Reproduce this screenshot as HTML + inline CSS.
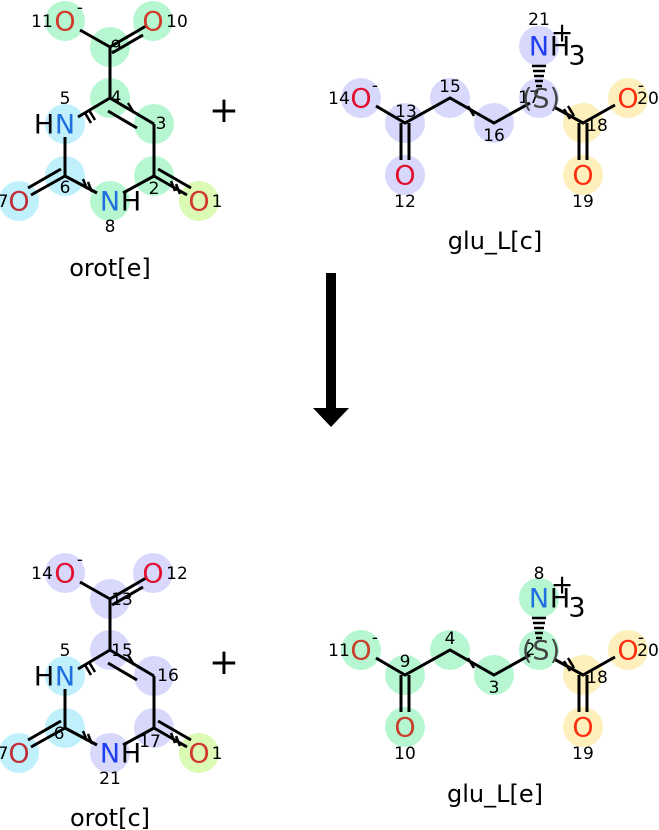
<!DOCTYPE html>
<html><head><meta charset="utf-8"><style>
html,body{margin:0;padding:0;background:#fff;}
svg{display:block;}
text{font-family:"DejaVu Sans","Liberation Sans",sans-serif;}
.a{font-size:27px;text-anchor:middle;dominant-baseline:central;}
.n{font-size:17px;fill:#000;text-anchor:middle;dominant-baseline:central;}
.b{stroke:#000;stroke-width:3;fill:none;stroke-linecap:butt;}
.h{stroke:#000;stroke-width:2.5;fill:none;}
.lbl{font-size:24px;text-anchor:middle;fill:#000;}
</style></head><body>
<svg width="659" height="830" viewBox="0 0 659 830" xmlns="http://www.w3.org/2000/svg">
<defs>
<g id="orot">
  <path class="b" d="M80,30 L110,47 M110,47 L146,26 M112,53 L143,35 M110,47 L110,98 M110,98 L78,117 M110,98 L154,124 M108,111 L137,128 M154,124 L154,176 M154,176 L123,193 M97,193 L65,176 M65,176 L65,137 M65,176 L31,195 M61,169 L28,188 M154,176 L187,195 M158,169 L191,188"/>
  <path class="h" d="M85,113 L91,123 M89,110 L95,120 M128,103 L134,113 M83,179 L87,189 M88,182 L92,192 M171,181 L175,191 M176,184 L180,194"/>
</g>
<g id="glu">
  <path class="b" d="M376,106 L405,123 L450,98 L494,123 L530,103 M554,107 L583,123 L615,105 M401,123 L401,160 M409,123 L409,160 M579,123 L579,160 M587,123 L587,160"/>
  <path class="h" d="M468,106 L474,116 M564,109 L570,119 M568,106 L574,116 M532,66 L546,66 M533,71 L545,71 M534,76 L544,76 M535,81 L543,81 M536,86 L542,86"/>
</g>
</defs>

<!-- TOP LEFT orot[e] -->
<g>
<circle cx="65" cy="21" r="20" fill="#b6f7d2"/><circle cx="153" cy="21" r="20" fill="#b6f7d2"/>
<circle cx="110" cy="47" r="20" fill="#b6f7d2"/><circle cx="110" cy="98" r="20" fill="#b6f7d2"/>
<circle cx="154" cy="124" r="20" fill="#b6f7d2"/><circle cx="154" cy="176" r="20" fill="#b6f7d2"/>
<circle cx="110" cy="201" r="20" fill="#b6f7d2"/>
<circle cx="65" cy="124" r="20" fill="#bff0fc"/><circle cx="65" cy="176" r="20" fill="#bff0fc"/><circle cx="19" cy="201" r="20" fill="#bff0fc"/>
<circle cx="199" cy="201" r="20" fill="#dafab5"/>
<use href="#orot"/>
<text class="a" x="65" y="22" fill="#d03a2a">O</text><text class="n" x="80" y="8" font-size="22">-</text>
<text class="a" x="153" y="22" fill="#d03a2a">O</text>
<text class="a" x="65" y="125" fill="#1f6fe0">N</text><text class="a" x="44" y="125" fill="#000">H</text>
<text class="a" x="110" y="202" fill="#1f6fe0">N</text><text class="a" x="131" y="202" fill="#000">H</text>
<text class="a" x="19" y="202" fill="#c0303a">O</text>
<text class="a" x="199" y="202" fill="#d03a2a">O</text>
<text class="n" x="42" y="22">11</text><text class="n" x="177" y="22">10</text>
<text class="n" x="116" y="47">9</text><text class="n" x="116" y="98">4</text>
<text class="n" x="65" y="99">5</text><text class="n" x="161" y="124">3</text>
<text class="n" x="65" y="188">6</text><text class="n" x="154" y="189">2</text>
<text class="n" x="110" y="227">8</text><text class="n" x="3" y="202">7</text><text class="n" x="217" y="202">1</text>
<text class="lbl" x="110" y="276">orot[e]</text>
</g>

<text x="224" y="122" font-size="36" text-anchor="middle" fill="#000">+</text>

<!-- TOP RIGHT glu_L[c] -->
<g>
<circle cx="361" cy="98" r="20" fill="#d8d8fc"/><circle cx="405" cy="123" r="20" fill="#d8d8fc"/>
<circle cx="450" cy="98" r="20" fill="#d8d8fc"/><circle cx="494" cy="123" r="20" fill="#d8d8fc"/>
<circle cx="539" cy="98" r="20" fill="#d8d8fc"/><circle cx="539" cy="46" r="20" fill="#d8d8fc"/>
<circle cx="405" cy="175" r="20" fill="#d8d8fc"/>
<circle cx="583" cy="123" r="20" fill="#fdf0bd"/><circle cx="628" cy="98" r="20" fill="#fdf0bd"/><circle cx="583" cy="175" r="20" fill="#fdf0bd"/>
<use href="#glu"/>
<text class="a" x="361" y="99" fill="#e0102f">O</text><text class="n" x="375" y="86" font-size="22">-</text>
<text class="a" x="405" y="176" fill="#e0102f">O</text>
<text class="a" x="539" y="47" fill="#2040f0">N</text><text class="a" x="560" y="47" fill="#000">H</text><text class="a" x="577" y="56" font-size="22" fill="#000">3</text><text class="a" x="562" y="33" font-size="22" fill="#000">+</text>
<text class="a" x="628" y="99" fill="#ff3010">O</text><text class="n" x="641" y="86" font-size="22">-</text>
<text class="a" x="583" y="176" fill="#ff3010">O</text>
<text class="n" x="339" y="99">14</text><text class="n" x="406" y="112">13</text>
<text class="n" x="450" y="87">15</text><text class="n" x="494" y="136">16</text>
<text class="n" x="529" y="98">17</text><text class="a" x="541" y="99" font-size="22" fill="#444">(S)</text>
<text class="n" x="597" y="126">18</text><text class="n" x="648" y="99">20</text>
<text class="n" x="405" y="202">12</text><text class="n" x="583" y="202">19</text><text class="n" x="539" y="20">21</text>
<text class="lbl" x="495" y="249">glu_L[c]</text>
</g>

<!-- ARROW -->
<rect x="326" y="273" width="10" height="137" fill="#000"/>
<polygon points="313,408 349,408 331,427" fill="#000"/>

<!-- BOTTOM LEFT orot[c] -->
<g transform="translate(0,552)">
<circle cx="65" cy="21" r="20" fill="#d8d8fc"/><circle cx="153" cy="21" r="20" fill="#d8d8fc"/>
<circle cx="110" cy="47" r="20" fill="#d8d8fc"/><circle cx="110" cy="98" r="20" fill="#d8d8fc"/>
<circle cx="154" cy="124" r="20" fill="#d8d8fc"/><circle cx="154" cy="176" r="20" fill="#d8d8fc"/>
<circle cx="110" cy="201" r="20" fill="#d8d8fc"/>
<circle cx="65" cy="124" r="20" fill="#bff0fc"/><circle cx="65" cy="176" r="20" fill="#bff0fc"/><circle cx="19" cy="201" r="20" fill="#bff0fc"/>
<circle cx="199" cy="201" r="20" fill="#dafab5"/>
<use href="#orot"/>
<text class="a" x="65" y="22" fill="#e0102f">O</text><text class="n" x="80" y="8" font-size="22">-</text>
<text class="a" x="153" y="22" fill="#e0102f">O</text>
<text class="a" x="65" y="125" fill="#1f6fe0">N</text><text class="a" x="44" y="125" fill="#000">H</text>
<text class="a" x="110" y="202" fill="#2040f0">N</text><text class="a" x="131" y="202" fill="#000">H</text>
<text class="a" x="19" y="202" fill="#c0303a">O</text>
<text class="a" x="199" y="202" fill="#d03a2a">O</text>
<text class="n" x="42" y="22">14</text><text class="n" x="177" y="22">12</text>
<text class="n" x="122" y="48">13</text><text class="n" x="122" y="99">15</text>
<text class="n" x="65" y="99">5</text><text class="n" x="168" y="124">16</text>
<text class="n" x="59" y="182">6</text><text class="n" x="150" y="190">17</text>
<text class="n" x="110" y="227">21</text><text class="n" x="3" y="202">7</text><text class="n" x="217" y="202">1</text>
<text class="lbl" x="110" y="274">orot[c]</text>
</g>

<text x="224" y="674" font-size="36" text-anchor="middle" fill="#000">+</text>

<!-- BOTTOM RIGHT glu_L[e] -->
<g transform="translate(0,552)">
<circle cx="361" cy="98" r="20" fill="#b6f7d2"/><circle cx="405" cy="123" r="20" fill="#b6f7d2"/>
<circle cx="450" cy="98" r="20" fill="#b6f7d2"/><circle cx="494" cy="123" r="20" fill="#b6f7d2"/>
<circle cx="539" cy="98" r="20" fill="#b6f7d2"/><circle cx="539" cy="46" r="20" fill="#b6f7d2"/>
<circle cx="405" cy="175" r="20" fill="#b6f7d2"/>
<circle cx="583" cy="123" r="20" fill="#fdf0bd"/><circle cx="628" cy="98" r="20" fill="#fdf0bd"/><circle cx="583" cy="175" r="20" fill="#fdf0bd"/>
<use href="#glu"/>
<text class="a" x="361" y="99" fill="#c8402a">O</text><text class="n" x="375" y="86" font-size="22">-</text>
<text class="a" x="405" y="176" fill="#c8402a">O</text>
<text class="a" x="539" y="47" fill="#1f6fe0">N</text><text class="a" x="560" y="47" fill="#000">H</text><text class="a" x="577" y="56" font-size="22" fill="#000">3</text><text class="a" x="562" y="33" font-size="22" fill="#000">+</text>
<text class="a" x="628" y="99" fill="#ff3010">O</text><text class="n" x="641" y="86" font-size="22">-</text>
<text class="a" x="583" y="176" fill="#ff3010">O</text>
<text class="n" x="339" y="99">11</text><text class="n" x="405" y="110">9</text>
<text class="n" x="450" y="87">4</text><text class="n" x="494" y="136">3</text>
<text class="n" x="530" y="98">2</text><text class="a" x="541" y="99" font-size="22" fill="#444">(S)</text>
<text class="n" x="597" y="126">18</text><text class="n" x="648" y="99">20</text>
<text class="n" x="405" y="202">10</text><text class="n" x="583" y="202">19</text><text class="n" x="539" y="22">8</text>
<text class="lbl" x="495" y="250">glu_L[e]</text>
</g>
</svg>
</body></html>
